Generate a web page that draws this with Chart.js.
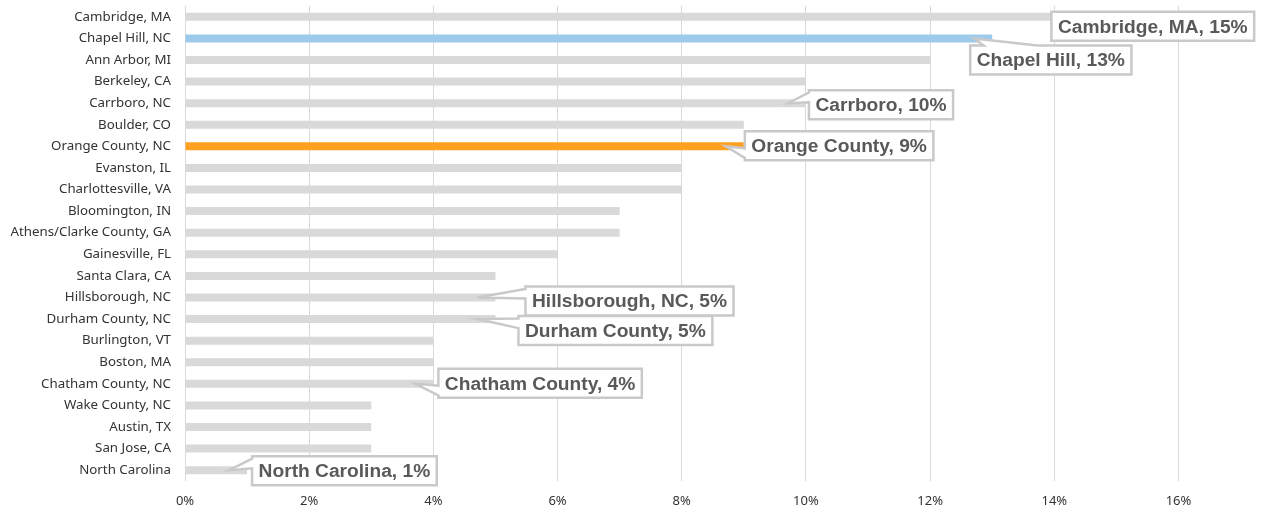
<!DOCTYPE html>
<html>
<head>
<meta charset="utf-8">
<script src="https://cdn.jsdelivr.net/npm/chart.js@4.4.1/dist/chart.umd.min.js"></script>
<style>
    html, body { margin: 0; padding: 0; background: #fff; }
    #wrap { width: 1266px; height: 515px; }
</style>
</head>
<body>
<div id="wrap"><canvas id="shareChart"></canvas></div>
<script>
const categories = [
    'Cambridge, MA', 'Chapel Hill, NC', 'Ann Arbor, MI', 'Berkeley, CA', 'Carrboro, NC',
    'Boulder, CO', 'Orange County, NC', 'Evanston, IL', 'Charlottesville, VA', 'Bloomington, IN',
    'Athens/Clarke County, GA', 'Gainesville, FL', 'Santa Clara, CA', 'Hillsborough, NC',
    'Durham County, NC', 'Burlington, VT', 'Boston, MA', 'Chatham County, NC', 'Wake County, NC',
    'Austin, TX', 'San Jose, CA', 'North Carolina'
];
const shares = [15, 13, 12, 10, 10, 9, 9, 8, 8, 7, 7, 6, 5, 5, 5, 4, 4, 4, 3, 3, 3, 1];
const xTicks = [0, 2, 4, 6, 8, 10, 12, 14, 16];

// which rows get a callout, and the short name shown in it
const calloutRows = [0, 1, 4, 6, 13, 14, 17, 21];
const calloutNames = [
    'Cambridge, MA', 'Chapel Hill', 'Carrboro', 'Orange County',
    'Hillsborough, NC', 'Durham County', 'Chatham County', 'North Carolina'
];

const GREY = '#d9d9d9';
const BLUE = '#9ccaea';
const ORANGE = '#ffa020';

function barColor(i) {
    if (categories[i] === 'Chapel Hill, NC') return BLUE;
    if (categories[i] === 'Orange County, NC') return ORANGE;
    return GREY;
}

// box offsets (px) from the callout tip, per callout
const boxOffsets = [
    [-47, -5], [-4, 7], [21, -13], [19, -15], [48, -11], [41, -3], [23, -15], [23, -14]
];

const calloutPlugin = {
    id: 'callouts',
    afterDatasetsDraw(chart) {
        const ctx = chart.ctx;
        const xs = chart.scales.x;
        const ys = chart.scales.y;
        ctx.save();
        ctx.font = 'bold 19.2px "Liberation Sans"';
        calloutRows.forEach((row, k) => {
            const text = calloutNames[k] + ', ' + shares[row] + '%';
            const tip = { x: xs.getPixelForValue(shares[row]) - 18, y: ys.getPixelForValue(row) };
            const w = ctx.measureText(text).width + 13;
            const h = 29;
            const left = tip.x + boxOffsets[k][0];
            const top = tip.y + boxOffsets[k][1];
            drawCallout(ctx, left, top, w, h, tip);
            ctx.fillStyle = '#595959';
            ctx.textAlign = 'center';
            ctx.textBaseline = 'middle';
            ctx.fillText(text, left + w / 2, top + h / 2 + 1);
        });
        ctx.restore();
    }
};

function drawCallout(ctx, left, top, w, h, tip) {
    const right = left + w, bottom = top + h;
    const cx = left + w / 2, cy = top + h / 2;
    const inside = tip.x >= left && tip.x <= right && tip.y >= top && tip.y <= bottom;
    let edge = null;
    if (!inside) {
        const dx = (tip.x - cx) / w, dy = (tip.y - cy) / h;
        if (Math.abs(dx) > Math.abs(dy)) edge = dx < 0 ? 'left' : 'right';
        else edge = dy < 0 ? 'top' : 'bottom';
    }
    const pts = [[left, top]];
    if (edge === 'top') {
        const a = tip.x <= cx ? [left + w / 12, left + 5 * w / 12] : [right - 5 * w / 12, right - w / 12];
        pts.push([a[0], top], [tip.x, tip.y], [a[1], top]);
    }
    pts.push([right, top]);
    if (edge === 'right') {
        const a = tip.y <= cy ? [top + h / 12, top + 5 * h / 12] : [bottom - 5 * h / 12, bottom - h / 12];
        pts.push([right, a[0]], [tip.x, tip.y], [right, a[1]]);
    }
    pts.push([right, bottom]);
    if (edge === 'bottom') {
        const a = tip.x <= cx ? [left + 5 * w / 12, left + w / 12] : [right - w / 12, right - 5 * w / 12];
        pts.push([a[0], bottom], [tip.x, tip.y], [a[1], bottom]);
    }
    pts.push([left, bottom]);
    if (edge === 'left') {
        const a = tip.y <= cy ? [top + 5 * h / 12, top + h / 12] : [bottom - h / 12, bottom - 5 * h / 12];
        pts.push([left, a[0]], [tip.x, tip.y], [left, a[1]]);
    }
    ctx.beginPath();
    pts.forEach((p, i) => i === 0 ? ctx.moveTo(p[0], p[1]) : ctx.lineTo(p[0], p[1]));
    ctx.closePath();
    ctx.fillStyle = '#ffffff';
    ctx.fill();
    ctx.lineWidth = 2.5;
    ctx.strokeStyle = '#c9c9c9';
    ctx.lineJoin = 'miter';
    ctx.stroke();
}

const ctx = document.getElementById('shareChart').getContext('2d');
const shareChart = new Chart(ctx, {
    type: 'bar',
    data: {
        labels: categories,
        datasets: [{
            data: shares,
            backgroundColor: categories.map((c, i) => barColor(i)),
            borderWidth: 0,
            barPercentage: 0.37,
            categoryPercentage: 1.0
        }]
    },
    options: {
        indexAxis: 'y',
        responsive: true,
        maintainAspectRatio: false,
        animation: false,
        layout: { padding: { top: 6, right: 13, bottom: 7, left: 0 } },
        plugins: {
            legend: { display: false },
            tooltip: { enabled: false }
        },
        scales: {
            x: {
                min: 0,
                max: 17.2,
                afterBuildTicks(scale) {
                    scale.ticks = xTicks.map(v => ({ value: v }));
                },
                afterFit(scale) { scale.height = 27; },
                grid: { color: '#d9d9d9', lineWidth: 1, drawTicks: false },
                border: { display: false },
                ticks: {
                    padding: 12,
                    color: '#333333',
                    font: { family: '"Noto Sans"', size: 13 },
                    callback: v => v + '%'
                }
            },
            y: {
                afterFit(scale) {
                    scale.width = 185;
                    scale.paddingTop = 0;
                    scale.paddingBottom = 0;
                },
                grid: { display: false, drawTicks: false },
                border: { display: false },
                ticks: {
                    padding: 14,
                    color: '#333333',
                    font: { family: '"Noto Sans"', size: 13.3 },
                    autoSkip: false
                }
            }
        }
    },
    plugins: [calloutPlugin]
});
</script>
</body>
</html>
